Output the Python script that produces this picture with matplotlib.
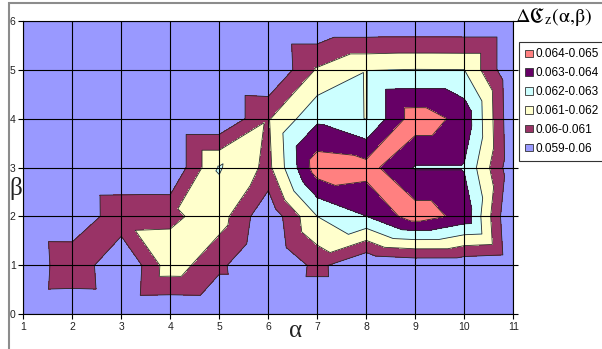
import numpy as np
import matplotlib
matplotlib.use("Agg")
import matplotlib.pyplot as plt
import matplotlib.tri as mtri
from matplotlib.colors import ListedColormap, BoundaryNorm
from matplotlib.patches import Patch, Rectangle

plt.rcParams['mathtext.fontset'] = 'stix'

# grid coordinates
alpha_vals = np.arange(1, 12)          # 1 .. 11
beta_vals = np.arange(0, 7)            # 0 .. 6

# ΔC_z(α, β): one row per β (0..6), one column per α (1..11)
dc_b0 = [0.0590, 0.05894, 0.0590, 0.05895, 0.0590, 0.0590, 0.0590, 0.0590, 0.0590, 0.0590, 0.0590]
dc_b1 = [0.05888, 0.06094, 0.05886, 0.06158, 0.06022, 0.05885, 0.0603, 0.05894, 0.0592, 0.05919, 0.0590]
dc_b2 = [0.0590, 0.05898, 0.06077, 0.0608, 0.06146, 0.05918, 0.0620, 0.06298, 0.06452, 0.06368, 0.0587]
dc_b3 = [0.0590, 0.0590, 0.05902, 0.0590, 0.06209, 0.06073, 0.06459, 0.0644, 0.06292, 0.06292, 0.0592]
dc_b4 = [0.0590, 0.0590, 0.0590, 0.0590, 0.0590, 0.0609, 0.0628, 0.06196, 0.06457, 0.06368, 0.0591]
dc_b5 = [0.0590, 0.0590, 0.0590, 0.0590, 0.0590, 0.0589, 0.0611, 0.06195, 0.06202, 0.0620, 0.0590]
dc_b6 = [0.0590, 0.0590, 0.0590, 0.0590, 0.0590, 0.0590, 0.0590, 0.0590, 0.0590, 0.0590, 0.0590]

band_edges = [0.059, 0.060, 0.061, 0.062, 0.063, 0.064, 0.065]
band_labels = ["0.059-0.06", "0.06-0.061", "0.061-0.062",
               "0.062-0.063", "0.063-0.064", "0.064-0.065"]
band_colors = ["#9999FF", "#993366", "#FFFFCC", "#CCFFFF", "#660066", "#FF8080"]

Z = np.array([dc_b0, dc_b1, dc_b2, dc_b3, dc_b4, dc_b5, dc_b6])
A, B = np.meshgrid(alpha_vals, beta_vals)
ny, nx = Z.shape

# split every grid cell into two triangles along the diagonal that joins
# the higher pair of corners, then interpolate linearly on the triangles
idx = np.arange(nx * ny).reshape(ny, nx)
zf = Z.ravel()
triangles = []
for j in range(ny - 1):
    for i in range(nx - 1):
        p00, p10 = idx[j, i], idx[j, i + 1]
        p01, p11 = idx[j + 1, i], idx[j + 1, i + 1]
        if zf[p00] + zf[p11] >= zf[p10] + zf[p01]:
            triangles += [[p00, p10, p11], [p00, p11, p01]]
        else:
            triangles += [[p00, p10, p01], [p10, p11, p01]]
tri = mtri.Triangulation(A.ravel(), B.ravel(), triangles)

W, H = 602, 349
fig = plt.figure(figsize=(W / 100, H / 100), dpi=100)
ax = fig.add_axes([23.3 / W, 1 - 314.3 / H, 490 / W, 293.6 / H])

cmap = ListedColormap(band_colors)
cmap.set_under(band_colors[0])
cmap.set_over(band_colors[-1])
norm = BoundaryNorm(band_edges, cmap.N)
ax.tricontourf(tri, zf, levels=band_edges, cmap=cmap, norm=norm,
               extend='both', antialiased=False)
ax.tricontour(tri, zf, levels=band_edges[1:-1], colors='#2a2a2a',
              linewidths=0.6)

ax.set_xlim(alpha_vals[0], alpha_vals[-1])
ax.set_ylim(beta_vals[0], beta_vals[-1])
ax.set_xticks(alpha_vals)
ax.set_yticks(beta_vals)
ax.set_xticklabels([str(a) for a in alpha_vals])
ax.set_yticklabels([str(b) for b in beta_vals])
ax.set_axisbelow(False)
ax.grid(True, color='black', linewidth=0.8)
for s in ax.spines.values():
    s.set_color('black')
    s.set_linewidth(0.8)
ax.tick_params(axis='both', direction='out', length=3.5, width=0.8,
               color='black', labelsize=7.5, labelcolor='#222222', pad=2)
ax.tick_params(axis='y', right=True)
for lab in ax.get_xticklabels() + ax.get_yticklabels():
    lab.set_fontfamily('Liberation Sans')

fig.text(16 / W, 1 - 188 / H, "β", family='Liberation Serif', fontsize=18,
         ha='center', va='center', color='#222222')
fig.text(296 / W, 1 - 331 / H, "α", family='Liberation Serif', fontsize=18,
         ha='center', va='center', color='#222222')

fig.text(515 / W, 1 - 17 / H,
         r'$\Delta\mathfrak{C}_{\mathrm{z}}\mathrm{(\alpha{,}\beta)}$',
         fontsize=14.5, ha='left', va='center', color='black')

handles = [Patch(facecolor=c, edgecolor='#333333', linewidth=0.6)
           for c in band_colors[::-1]]
leg = ax.legend(handles, band_labels[::-1], loc='upper left',
                bbox_to_anchor=(519 / W, 1 - 42 / H),
                bbox_transform=fig.transFigure, frameon=True, fancybox=False,
                edgecolor='#333333', framealpha=1, borderaxespad=0,
                borderpad=0.55, handlelength=0.6, handleheight=0.6,
                handletextpad=0.25, labelspacing=0.58,
                prop={'family': 'Liberation Sans', 'size': 8.5})
leg.get_frame().set_linewidth(0.8)

# outer chart border
fig.add_artist(Rectangle((9 / W, -0.2), 1.2, 1.2 - 3 / H,
                         transform=fig.transFigure, fill=False,
                         edgecolor='#8c8c8c', linewidth=1.5))

fig.savefig("out.png", dpi=100, facecolor='white')
